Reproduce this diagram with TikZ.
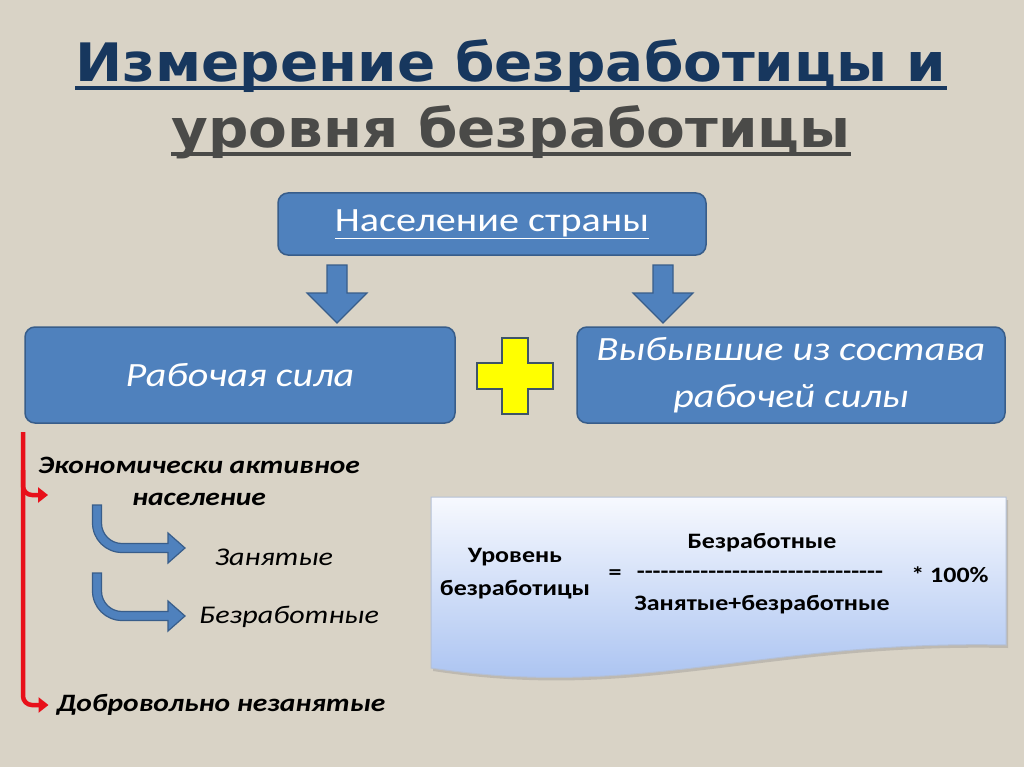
\documentclass[tikz,border=0pt]{standalone}
\usepackage{fontspec}
\setmainfont{Carlito}[FakeStretch=1.18]
\newfontfamily\titlefont{DejaVu Sans}[FakeStretch=1.065]
\usetikzlibrary{arrows.meta, positioning, calc, shadows}
\definecolor{bgbeige}{HTML}{D9D3C6}
\definecolor{titleblue}{HTML}{17375E}
\definecolor{titlegrey}{HTML}{4A4A48}
\definecolor{boxblue}{HTML}{4F81BD}
\definecolor{boxedge}{HTML}{385D8A}
\definecolor{plusyellow}{HTML}{FFFF00}
\definecolor{plusedge}{HTML}{3E5468}
\definecolor{bracketred}{HTML}{E8101A}
\definecolor{formtop}{HTML}{F7F9FE}
\definecolor{formbot}{HTML}{A3BEF0}
\definecolor{formedge}{HTML}{B4C0D6}
\newcommand{\dnarrow}[1]{\draw[blockarr] (#1) ++(-10,0) -- ++(20,0) -- ++(0,28) -- ++(20,0) -- ++(-30,30) -- ++(-30,-30) -- ++(20,0) -- cycle;}
\newcommand{\bentarrow}[1]{\draw[blockarr] (#1) ++(-4.5,0) -- ++(0,18) arc[start angle=180, end angle=270, radius=29.5pt] -- ++(46,0) -- ++(0,10.5) -- ++(17,-15) -- ++(-17,-15) -- ++(0,10.5) -- ++(-46,0) arc[start angle=270, end angle=180, radius=20.5pt] -- ++(0,-18) -- cycle;}
\newcommand{\dashrow}{\foreach \i in {1,...,31}{-}}

\begin{document}
\begin{tikzpicture}[x=1pt, y=-1pt,
	bluebox/.style={draw=boxedge, line width=1.5pt, fill=boxblue, rounded corners=10pt, text=white, align=center, font=\fontsize{34}{47}\selectfont\itshape},
	blockarr/.style={draw=boxedge, line width=1.2pt, fill=boxblue},
	redline/.style={draw=bracketred, line width=4.5pt, rounded corners=9pt, -{Triangle[length=10pt, width=15pt]}},
	titletext/.style={inner sep=0pt, anchor=base, font=\fontsize{53}{60}\selectfont\titlefont\bfseries},
	sidetext/.style={inner sep=0pt, align=center, font=\fontsize{25}{32}\selectfont\bfseries\itshape},
	subtext/.style={inner sep=0pt, font=\fontsize{25.5}{30}\selectfont\itshape},
	formtext/.style={inner sep=0pt, align=center, font=\fontsize{22}{33}\selectfont\bfseries}]
	\fill[bgbeige] (0,0) rectangle (1024,767);

	\node[titletext, text=titleblue] (title1) at (511,82) {Измерение безработицы и};
	\node[titletext, text=titlegrey] (title2) at (511,148) {уровня безработицы};
	\draw[titleblue, line width=4pt] ([yshift=-6.5pt]title1.base west) -- ([yshift=-6.5pt]title1.base east);
	\draw[titlegrey, line width=4pt] ([yshift=-6.5pt]title2.base west) -- ([yshift=-6.5pt]title2.base east);

	\node[bluebox, minimum width=428pt, minimum height=62pt] (pop) at (492,224) {\underline{\upshape Население страны}};
	\node[bluebox, minimum width=430pt, minimum height=96pt] (labour) at (240,375) {Рабочая сила};
	\node[bluebox, minimum width=428pt, minimum height=96pt] (outside) at (791,375) {Выбывшие из состава\\рабочей силы};

	\coordinate (arrL) at (337,265);
	\coordinate (arrR) at (663,265);
	\dnarrow{arrL}
	\dnarrow{arrR}

	\coordinate (plus) at (515,376);
	\draw[draw=plusedge, line width=1.5pt, fill=plusyellow] (plus) ++(-13,-38) -- ++(26,0) -- ++(0,25) -- ++(25,0) -- ++(0,26) -- ++(-25,0) -- ++(0,25) -- ++(-26,0) -- ++(0,-25) -- ++(-25,0) -- ++(0,-26) -- ++(25,0) -- cycle;

	\node[sidetext] (active) at (199,481) {Экономически активное\\население};
	\node[subtext] (employed) at (274,557) {Занятые};
	\node[subtext] (unemployed) at (289,617) {Безработные};
	\node[sidetext] (voluntary) at (221,705) {Добровольно незанятые};

	\coordinate (brtop) at (23,432);
	\coordinate (brmid) at (23,470);
	\draw[redline] (brtop) |- ([xshift=-8pt]voluntary.west);
	\draw[redline] (brmid) |- ($(active.west)+(10,14)$);

	\coordinate (bend1) at (97,505);
	\coordinate (bend2) at (97,573);
	\bentarrow{bend1}
	\bentarrow{bend2}

	\draw[draw=formedge, line width=1pt, top color=formtop, bottom color=formbot, drop shadow={shadow xshift=2pt, shadow yshift=-3pt, opacity=0.3}] (431,497) -- (1006,497) -- (1006,645) .. controls (760,640) and (640,700) .. (431,668) -- cycle;

	\node[formtext] (rate) at (515,574) {Уровень\\безработицы};
	\node[formtext] (equals) at (615,575) {=};
	\node[formtext] (numer) at (762,543) {Безработные};
	\node[formtext] (bar) at (760,575) {\dashrow};
	\node[formtext] (denom) at (762,605) {Занятые+безработные};
	\node[formtext] (percent) at (950,575) {* 100\%};
\end{tikzpicture}
\end{document}
